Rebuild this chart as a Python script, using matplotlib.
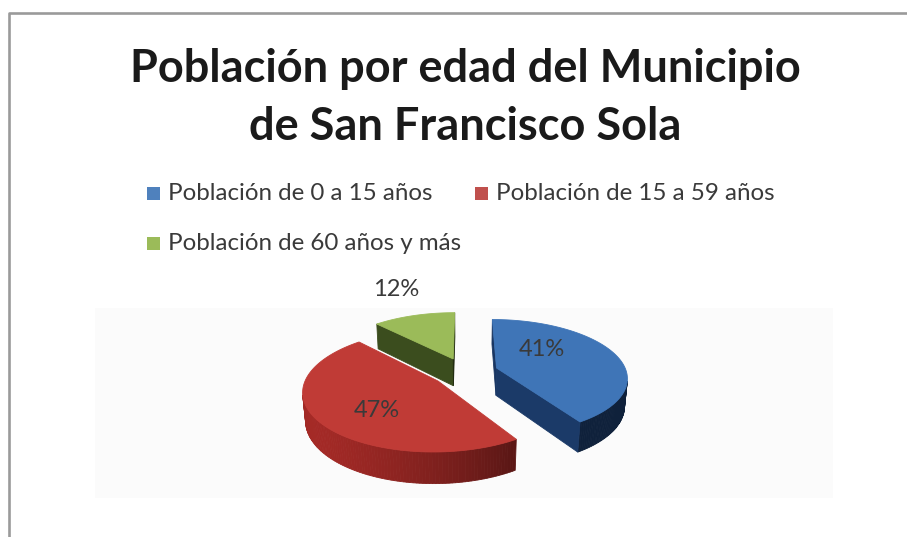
import numpy as np
import matplotlib
matplotlib.use("Agg")
import matplotlib.pyplot as plt
from matplotlib.patches import Polygon, Rectangle
from matplotlib.colors import to_rgb

# datos
categorias = ["Población de 0 a 15 años",
              "Población de 15 a 59 años",
              "Población de 60 años y más"]
porcentajes = [41, 47, 12]
titulo = ["Población por edad del Municipio", "de San Francisco Sola"]

# estilo
col_leyenda = ["#4F81BD", "#C0504D", "#9BBB59"]
col_tapa = ["#3f75b7", "#c03b36", "#9bbb59"]
col_lado = ["#17325a", "#8e2421", "#34441a"]
explode = [0.255, 0.255, 0.255]
label_r = [0.52, 0.62, 1.72]
label_ang = [48, 222, 340]

plt.rcParams['font.family'] = ['Lato', 'DejaVu Sans']

fig = plt.figure(figsize=(9.07, 5.37), dpi=100)
ax = fig.add_axes([0, 0, 1, 1])
ax.set_xlim(0, 907)
ax.set_ylim(537, 0)
ax.axis('off')

# marco del grafico
ax.plot([9, 9, 907], [537, 13, 13], color="#9a9a9a", lw=1.9, solid_capstyle='butt')
# area de trazado (muy tenue)
ax.add_patch(Rectangle((95, 308), 738, 190, facecolor="#fbfbfb", edgecolor="none", zorder=0))

# titulo
ax.text(465, 69, titulo[0], ha='center', va='center', fontsize=32.5, fontweight='bold', color="#1a1a1a")
ax.text(465, 127, titulo[1], ha='center', va='center', fontsize=32.5, fontweight='bold', color="#1a1a1a")

# leyenda
ley_pos = [(147, 193), (475, 193), (147, 243)]
for (lx, ly), c, t in zip(ley_pos, col_leyenda, categorias):
    ax.add_patch(Rectangle((lx, ly - 6.5), 13, 13, facecolor=c, edgecolor='none'))
    ax.text(lx + 21, ly, t, ha='left', va='center', fontsize=17.4, color="#3a3a3a")

# pastel 3D con perspectiva
cx, cy, A = 465, 372, 130
phi = np.radians(26)
D = 5.9
h = 0.24
cam = np.array([0, -D * np.cos(phi), D * np.sin(phi)])
L = np.array([-0.8, -0.45, 0.4])
L = L / np.linalg.norm(L)


def proy(X, Y, Z):
    den = D + Y * np.cos(phi) - Z * np.sin(phi)
    f = D / den
    return cx + A * X * f, cy - A * (Y * np.sin(phi) + Z * np.cos(phi)) * f


def sombra(c, n):
    k = 0.65 + 0.55 * max(0.0, float(np.dot(n, L)))
    return tuple(min(1.0, v * k) for v in to_rgb(c))


total = sum(porcentajes)
bordes = np.concatenate([[0], np.cumsum(porcentajes)]) / total * 360
rebanadas = []
for i, v in enumerate(porcentajes):
    t1, t2 = np.radians(bordes[i]), np.radians(bordes[i + 1])
    tm = (t1 + t2) / 2
    ox, oy = explode[i] * np.sin(tm), explode[i] * np.cos(tm)
    rebanadas.append((oy, i, t1, t2, tm, ox))

for oy, i, t1, t2, tm, ox in sorted(rebanadas, reverse=True):
    th = np.linspace(t1, t2, 140)
    X = ox + np.sin(th)
    Y = oy + np.cos(th)
    # pared exterior
    for j in range(len(th) - 1):
        n = np.array([np.sin((th[j] + th[j + 1]) / 2), np.cos((th[j] + th[j + 1]) / 2), 0])
        P = np.array([X[j], Y[j], 0])
        if np.dot(n, cam - P) <= 0:
            continue
        xs = [X[j], X[j + 1], X[j + 1], X[j]]
        ys = [Y[j], Y[j + 1], Y[j + 1], Y[j]]
        zs = [0, 0, -h, -h]
        px, py = proy(np.array(xs), np.array(ys), np.array(zs))
        c = sombra(col_lado[i], n)
        ax.add_patch(Polygon(np.column_stack([px, py]), closed=True, facecolor=c,
                             edgecolor=c, lw=0.6, zorder=2))
    # caras de corte
    for t, n in [(t1, np.array([-np.cos(t1), np.sin(t1), 0])),
                 (t2, np.array([np.cos(t2), -np.sin(t2), 0]))]:
        P = np.array([ox, oy, 0])
        if np.dot(n, cam - P) <= 0:
            continue
        xs = np.array([ox, ox + np.sin(t), ox + np.sin(t), ox])
        ys = np.array([oy, oy + np.cos(t), oy + np.cos(t), oy])
        zs = np.array([0, 0, -h, -h])
        px, py = proy(xs, ys, zs)
        c = sombra(col_lado[i], n)
        ax.add_patch(Polygon(np.column_stack([px, py]), closed=True, facecolor=c,
                             edgecolor=c, lw=0.6, zorder=2))
    # tapa
    px, py = proy(np.concatenate([[ox], X]), np.concatenate([[oy], Y]), np.zeros(len(X) + 1))
    ax.add_patch(Polygon(np.column_stack([px, py]), closed=True, facecolor=col_tapa[i],
                         edgecolor=col_tapa[i], lw=0.6, zorder=2))
    # etiqueta
    a = np.radians(label_ang[i])
    lx, ly = proy(ox + label_r[i] * np.sin(a), oy + label_r[i] * np.cos(a), 0.0)
    ax.text(lx, ly, f"{porcentajes[i]}%", ha='center', va='center', fontsize=17,
            color="#3a3a3a", zorder=5)

fig.savefig("out.png", dpi=100)
